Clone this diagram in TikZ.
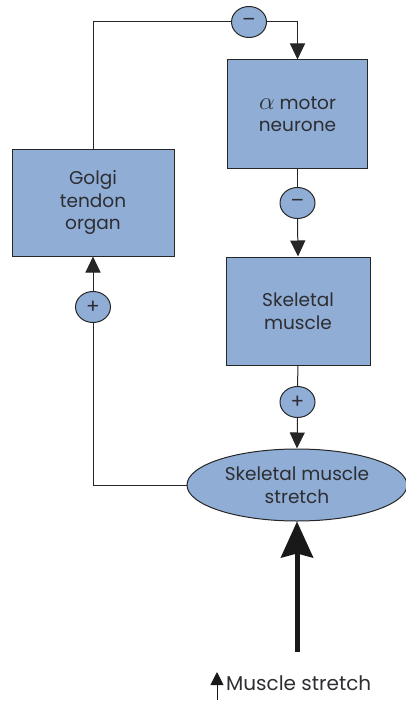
\documentclass[tikz,border=0pt]{standalone}
\usepackage{fontspec}
\setmainfont{Poppins}
\usetikzlibrary{shapes.geometric,arrows.meta}
\definecolor{boxblue}{RGB}{143,173,213}
\definecolor{txt}{RGB}{45,45,50}
\tikzset{
  box/.style={draw=black!85,line width=1pt,fill=boxblue,minimum width=140pt,minimum height=108pt,align=center,text=txt,font=\fontsize{18.5}{22.5}\selectfont,inner sep=0pt},
  sign/.style={draw=black!85,line width=1pt,fill=boxblue,ellipse,minimum width=35pt,minimum height=31pt,inner sep=0pt,text=txt,font=\fontsize{20}{20}\selectfont},
  conn/.style={line width=1pt,draw=black!85},
  tri/.style={-{Triangle[length=16pt,width=15pt]}}
}
\begin{document}
\begin{tikzpicture}[x=1pt,y=-1pt]
\useasboundingbox (0,0) rectangle (405,701);
\node[box] (mn) at (297.5,114) {{\fontsize{25}{22.5}\selectfont$\alpha$} motor\\neurone};
\node[box,minimum width=144pt] (sm) at (298,311) {Skeletal\\muscle};
\node[box,minimum width=162pt,minimum height=107pt] (gto) at (93,202.5) {Golgi\\tendon\\organ};
\node[box,ellipse,minimum width=220pt,minimum height=72pt] (sms) at (297,485) {Skeletal muscle\\stretch};
\node[sign] (m1) at (249,22) {–};
\node[sign] (m2) at (297.5,203) {–};
\node[sign] (p1) at (297.5,402) {+};
\node[sign] (p2) at (93,307) {+};
\draw[conn] (gto.north) |- (m1.west);
\draw[conn,tri] (m1.east) -| (mn.north);
\draw[conn] (mn.south) -- (m2.north);
\draw[conn,tri] (m2.south) -- (sm.north);
\draw[conn] (sm.south) -- (p1.north);
\draw[conn,tri] (p1.south) -- (sms.north);
\draw[conn] (sms.west) -| (p2.south);
\draw[conn,tri] (p2.north) -- (gto.south);
\coordinate (base) at (297,652);
\draw[line width=5pt,draw=black!90,-{Stealth[length=36pt,width=32pt,inset=4pt]}] (base) -- (sms.south);
\node[anchor=base west,inner sep=0pt,text=txt,font=\fontsize{20}{24}\selectfont] (lbl) at (226,690) {Muscle stretch};
\coordinate (sa) at (217,700);
\coordinate (sb) at (217,672);
\draw[line width=1pt,draw=black!90,-{Triangle[length=13pt,width=13pt]}] (sa) -- (sb);
\end{tikzpicture}
\end{document}
